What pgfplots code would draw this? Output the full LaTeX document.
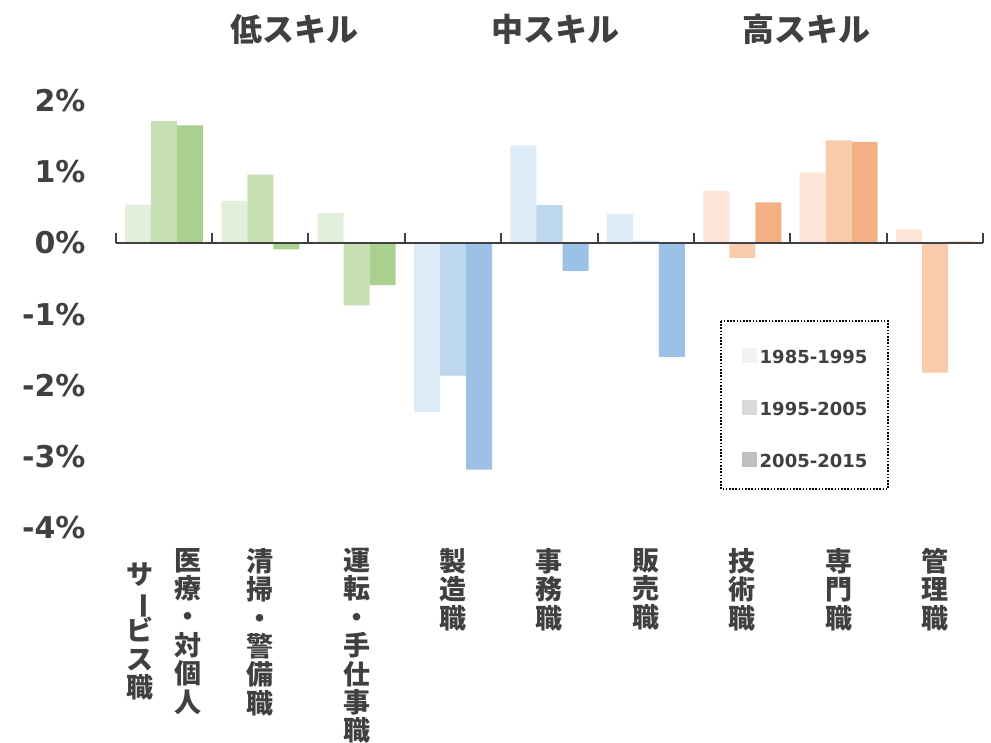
\documentclass[border=0pt]{standalone}
\usepackage{pgfplots}
\pgfplotsset{compat=1.18}
\usepackage{graphicx}
\usepackage{fontspec}
\setmainfont{DejaVu Sans}
\newfontfamily\jp{Noto Sans CJK JP}

\definecolor{txt}{HTML}{404040}
\definecolor{gA}{HTML}{E2EFDA}
\definecolor{gB}{HTML}{C6E0B4}
\definecolor{gC}{HTML}{A9D08E}
\definecolor{bA}{HTML}{DDEBF7}
\definecolor{bB}{HTML}{BDD7EE}
\definecolor{bC}{HTML}{9BC2E6}
\definecolor{oA}{HTML}{FCE4D6}
\definecolor{oB}{HTML}{F8CBAD}
\definecolor{oC}{HTML}{F4B084}
\definecolor{lgA}{HTML}{F2F2F2}
\definecolor{lgB}{HTML}{D9D9D9}
\definecolor{lgC}{HTML}{BFBFBF}

% vertical long vowel mark
\newcommand{\vb}{\rotatebox[origin=c]{-90}{ー}}
% one vertical column of characters, fixed pitch
\newcommand{\col}[1]{\parbox[c]{30pt}{\centering\setlength{\baselineskip}{28.4pt}\setlength{\lineskiplimit}{-100pt}#1}}

\begin{document}
\begin{tikzpicture}
\path[use as bounding box] (-115.7pt,-215pt) rectangle (875.3pt,528pt);
\begin{axis}[
    scale only axis,
    width=867.6pt, height=427.5pt,
    xmin=-0.5, xmax=8.5,
    ymin=-4, ymax=2,
    ybar, bar width=0.27,
    clip=false,
    axis x line*=bottom, axis y line*=left,
    x axis line style={draw=none},
    y axis line style={draw=none},
    major tick length=0pt,
    xtick={0,1,2,3,4,5,6,7,8},
    xticklabels={
      {\col{サ\\\vb\\ビ\\ス\\職}\hspace{18pt}\col{医\\療\\・\\対\\個\\人}},
      {\col{清\\掃\\・\\警\\備\\職}},
      {\col{運\\転\\・\\手\\仕\\事\\職}},
      {\col{製\\造\\職}},
      {\col{事\\務\\職}},
      {\col{販\\売\\職}},
      {\col{技\\術\\職}},
      {\col{専\\門\\職}},
      {\col{管\\理\\職}}},
    xticklabel style={anchor=north, inner sep=0pt, yshift=-20pt,
      font=\jp\bfseries\fontsize{27}{28.4}\selectfont, text=txt},
    ytick={-4,-3,-2,-1,0,1,2},
    yticklabels={-4\%,-3\%,-2\%,-1\%,0\%,1\%,2\%},
    yticklabel style={anchor=east, inner sep=0pt, xshift=-30pt,
      font=\bfseries\fontsize{30}{30}\selectfont, text=txt},
    legend image code/.code={\fill[#1] (0pt,-6pt) rectangle (15pt,9pt);},
    legend style={at={(rel axis cs:0.7219,0.421)}, anchor=north west,
      draw=none, fill=none, row sep=34.5pt, inner sep=0pt,
      font=\bfseries\fontsize{18}{18}\selectfont, text=txt,
      nodes={inner xsep=2.5pt, inner ysep=1pt}},
    legend cell align=left,
]
% low skill (green)
\addplot[fill=gA, draw=none, bar shift=-0.27, forget plot] coordinates {(0,0.54) (1,0.59) (2,0.42)};
\addplot[fill=gB, draw=none, bar shift=0, forget plot] coordinates {(0,1.71) (1,0.96) (2,-0.875)};
\addplot[fill=gC, draw=none, bar shift=0.27, forget plot] coordinates {(0,1.65) (1,-0.09) (2,-0.59)};
% middle skill (blue)
\addplot[fill=bA, draw=none, bar shift=-0.27, forget plot] coordinates {(3,-2.37) (4,1.37) (5,0.41)};
\addplot[fill=bB, draw=none, bar shift=0, forget plot] coordinates {(3,-1.86) (4,0.53) (5,0.03)};
\addplot[fill=bC, draw=none, bar shift=0.27, forget plot] coordinates {(3,-3.18) (4,-0.39) (5,-1.60)};
% high skill (orange)
\addplot[fill=oA, draw=none, bar shift=-0.27, forget plot] coordinates {(6,0.73) (7,0.99) (8,0.19)};
\addplot[fill=oB, draw=none, bar shift=0, forget plot] coordinates {(6,-0.21) (7,1.44) (8,-1.82)};
\addplot[fill=oC, draw=none, bar shift=0.27, forget plot] coordinates {(6,0.57) (7,1.42) (8,0.02)};

\addlegendimage{fill=lgA, draw=none}\addlegendentry{1985-1995}
\addlegendimage{fill=lgB, draw=none}\addlegendentry{1995-2005}
\addlegendimage{fill=lgC, draw=none}\addlegendentry{2005-2015}

% zero line with separators
\draw[line width=2pt, txt] (axis cs:-0.5,0) -- (axis cs:8.5,0);
\pgfplotsinvokeforeach{-0.5,0.5,1.5,2.5,3.5,4.5,5.5,6.5,7.5,8.5}{
  \draw[line width=2pt, txt] (axis cs:#1,0) -- ([yshift=10pt]axis cs:#1,0);
}
% legend frame
\draw[black, line width=1.6pt, dash pattern=on 1.6pt off 1.6pt]
  (rel axis cs:0.6977,0.4842) rectangle (rel axis cs:0.8902,0.0912);
% group titles
\node[font=\jp\bfseries\fontsize{32}{32}\selectfont, text=txt] at (axis cs:1.35,3.0) {低スキル};
\node[font=\jp\bfseries\fontsize{32}{32}\selectfont, text=txt] at (axis cs:4.06,3.0) {中スキル};
\node[font=\jp\bfseries\fontsize{32}{32}\selectfont, text=txt] at (axis cs:6.67,3.0) {高スキル};
\end{axis}
\end{tikzpicture}
\end{document}
